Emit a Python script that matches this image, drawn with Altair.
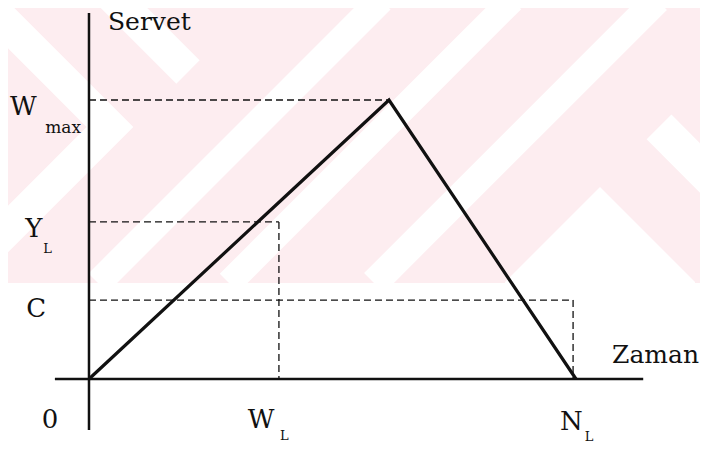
import altair as alt
import pandas as pd

# ---- values (time units / wealth units) ----
W_L = 3.9       # time where Y_L line drops
T_PEAK = 6.16   # time of maximum wealth
N_L = 10.0      # end of life
W_MAX = 10.0    # maximum wealth
Y_L = 5.63      # income level
C_LEV = 2.83    # consumption level
C_END = 9.94    # end of consumption dashed box

# main wealth path
path_t = [0.0, T_PEAK, N_L]
path_v = [0.0, W_MAX, 0.0]

# axes extents
yaxis_t = [0.0, 0.0]
yaxis_v = [-1.83, 13.12]
xaxis_t = [-0.70, 11.38]
xaxis_v = [0.0, 0.0]

# dashed guide segments (x, y, x2, y2)
dash_x = [0.0, 0.0, W_L, 0.0, C_END]
dash_y = [W_MAX, Y_L, Y_L, C_LEV, C_LEV]
dash_x2 = [T_PEAK, W_L, W_L, C_END, C_END]
dash_y2 = [W_MAX, Y_L, 0.0, C_LEV, 0.0]

# labels
lab_text = ["Servet", "W", "max", "Y", "L", "C", "0", "W", "L", "N", "L", "Zaman"]
lab_t = [0.39, -1.62, -0.90, -1.31, -0.94, -1.29, -0.97, 3.26, 3.92, 9.67, 10.18, 10.74]
lab_v = [12.51, 9.46, 8.82, 5.09, 4.52, 2.22, -1.76, -1.76, -2.19, -1.83, -2.24, 0.57]
lab_size = [25, 26, 17, 26, 13, 26, 26, 26, 13, 26, 13, 25]

# scale set-up (plot area maps onto the picture)
X_DOM = [-1.663, 12.546]
Y_DOM = [-2.258, 13.297]
PX_T0, PX_PER_T = 89.0, 48.7
PY_V0, PX_PER_V = 379.0, 27.9


def tx(px):
    return (px - PX_T0) / PX_PER_T


def vy(py):
    return (PY_V0 - py) / PX_PER_V


# faint background watermark of the scanned page (pink with white chevrons)
WM_BOTTOM = 283
wm_id = ["A", "A", "B", "B", "C", "C", "E", "E", "F", "F", "G", "G", "G"]
wm_px = [381, 98, 512, 229, 657, 374, 659, 760, 100, 188, -20, 110, -30]
wm_py = [0, 283, 0, 283, 0, 283, 127, 228, -16, 72, -3, 127, 267]
wm_w = {"A": 27, "B": 26, "C": 28, "E": 35, "F": 33, "G": 33}
lam_px = [505, 600, 695]
lam_py = [282, 187, 282]

xs = alt.Scale(domain=X_DOM, nice=False, zero=False)
ys = alt.Scale(domain=Y_DOM, nice=False, zero=False)

bg = pd.DataFrame({"x": [X_DOM[0]], "x2": [X_DOM[1]], "y": [vy(WM_BOTTOM)], "y2": [Y_DOM[1]]})
pink = alt.Chart(bg).mark_rect(color="#fdedf0").encode(
    x=alt.X("x:Q", scale=xs, axis=None), x2="x2:Q",
    y=alt.Y("y:Q", scale=ys, axis=None), y2="y2:Q")

band_layers = []
for key, w in wm_w.items():
    sub = pd.DataFrame({
        "x": [tx(p) for p, k in zip(wm_px, wm_id) if k == key],
        "y": [vy(p) for p, k in zip(wm_py, wm_id) if k == key],
    })
    sub["o"] = range(len(sub))
    band_layers.append(
        alt.Chart(sub).mark_line(color="white", strokeWidth=w, strokeCap="butt",
                                 strokeJoin="miter", clip=True).encode(
            x=alt.X("x:Q", scale=xs, axis=None), y=alt.Y("y:Q", scale=ys, axis=None),
            order="o:Q"))

lam = pd.DataFrame({"x": [tx(p) for p in lam_px], "y": [vy(p) for p in lam_py],
                    "y2": [vy(WM_BOTTOM)] * 3})
lam_area = alt.Chart(lam).mark_area(color="white", clip=True).encode(
    x=alt.X("x:Q", scale=xs, axis=None), y=alt.Y("y:Q", scale=ys, axis=None), y2="y2:Q")

dd = pd.DataFrame({"x": dash_x, "y": dash_y, "x2": dash_x2, "y2": dash_y2})
dashes = alt.Chart(dd).mark_rule(color="#111", strokeWidth=1.3, strokeDash=[7, 4]).encode(
    x=alt.X("x:Q", scale=xs, axis=None), x2="x2:Q",
    y=alt.Y("y:Q", scale=ys, axis=None), y2="y2:Q")

ax = pd.DataFrame({"x": [yaxis_t[0], xaxis_t[0]], "y": [yaxis_v[0], xaxis_v[0]],
                   "x2": [yaxis_t[1], xaxis_t[1]], "y2": [yaxis_v[1], xaxis_v[1]]})
axes = alt.Chart(ax).mark_rule(color="#111", strokeWidth=2.5).encode(
    x=alt.X("x:Q", scale=xs, axis=None), x2="x2:Q",
    y=alt.Y("y:Q", scale=ys, axis=None), y2="y2:Q")

pdf = pd.DataFrame({"t": path_t, "v": path_v, "o": [0, 1, 2]})
path = alt.Chart(pdf).mark_line(color="#111", strokeWidth=3.2, strokeJoin="miter").encode(
    x=alt.X("t:Q", scale=xs, axis=None), y=alt.Y("v:Q", scale=ys, axis=None), order="o:Q")

ldf = pd.DataFrame({"text": lab_text, "t": lab_t, "v": lab_v, "s": lab_size})
labels = alt.Chart(ldf).mark_text(align="left", baseline="alphabetic", font="DejaVu Serif",
                                  color="#111").encode(
    x=alt.X("t:Q", scale=xs, axis=None), y=alt.Y("v:Q", scale=ys, axis=None),
    text="text:N", size=alt.Size("s:Q", scale=None, legend=None))

chart = alt.layer(pink, *band_layers, lam_area, dashes, axes, path, labels).properties(
    width=692, height=434, padding=0, background="white"
).configure_view(stroke=None)

chart.save("out.html", embed_options={"renderer": "svg", "actions": False})
